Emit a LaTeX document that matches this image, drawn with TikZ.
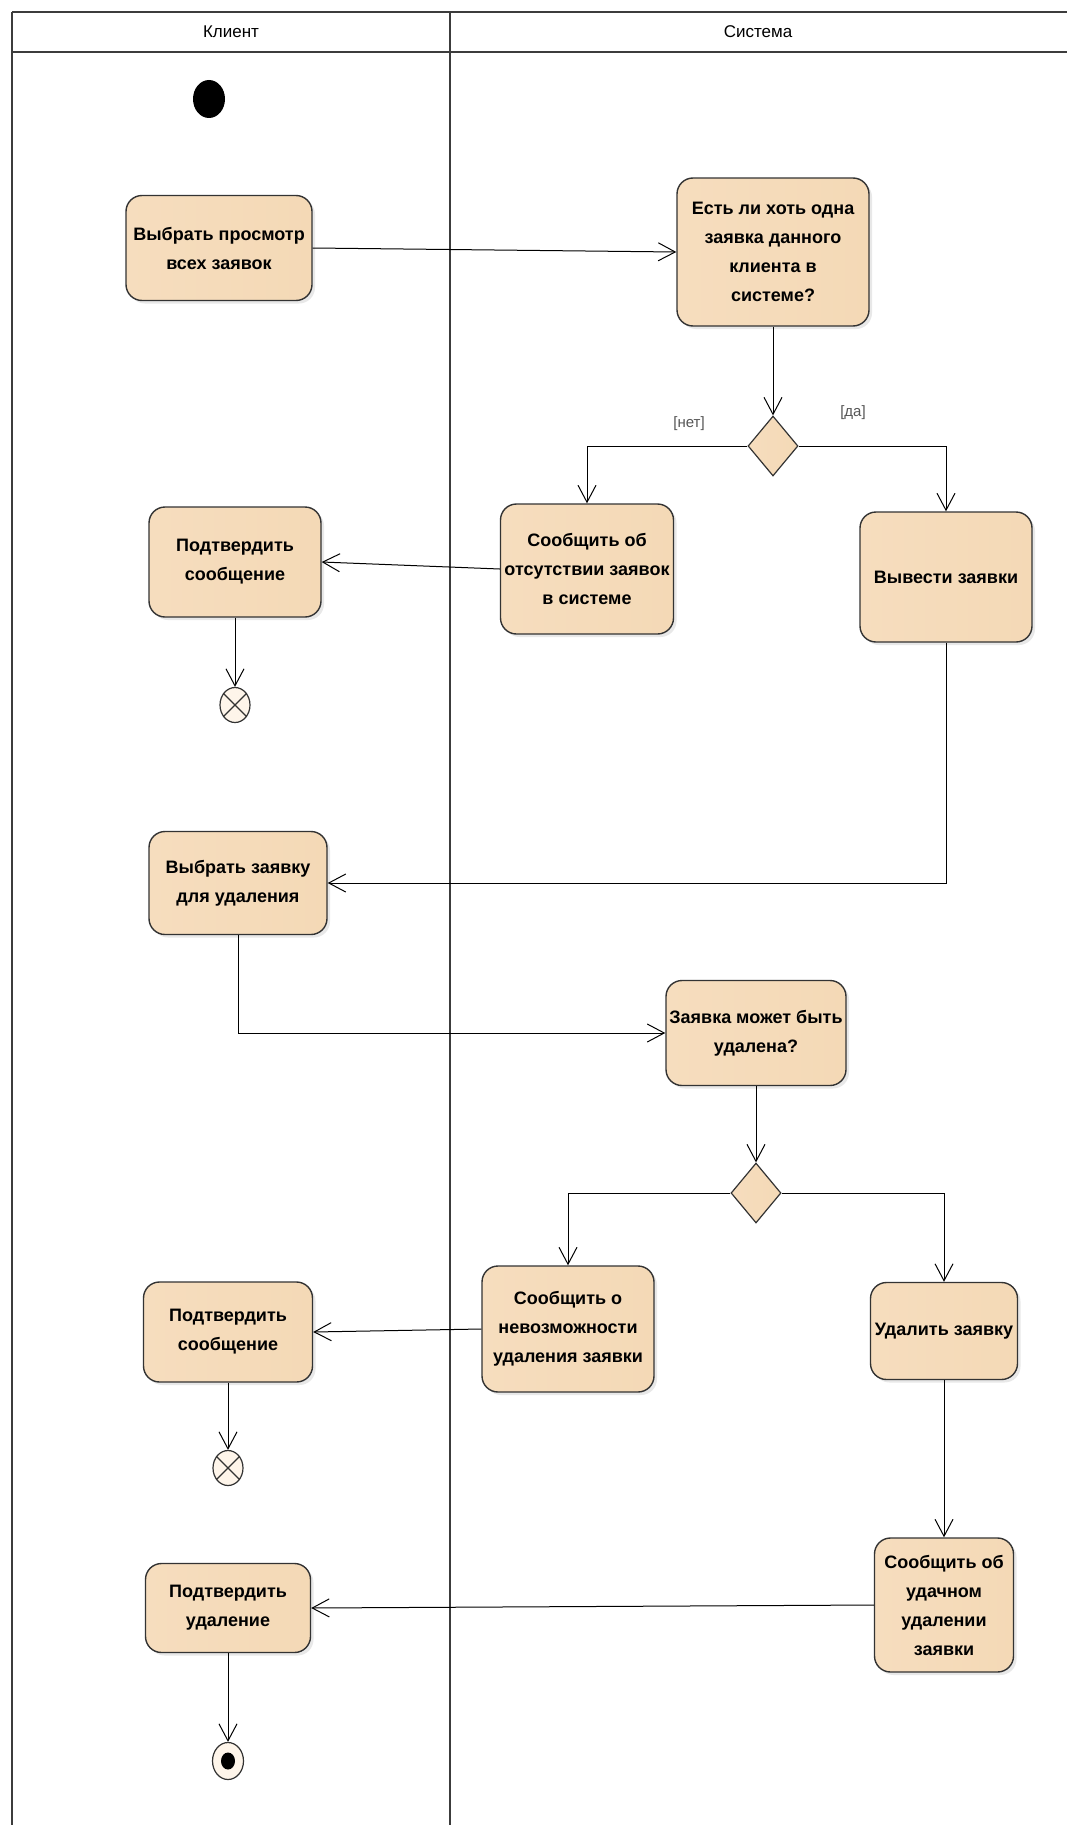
\documentclass[tikz,border=0pt]{standalone}
\usepackage{fontspec}
\setmainfont{Liberation Sans}
\usetikzlibrary{arrows.meta,shapes.geometric,shadows}
\definecolor{boxL}{HTML}{F6DDBE}
\definecolor{boxM}{HTML}{FEF5EA}
\definecolor{boxR}{HTML}{F4D9B6}
\definecolor{lineC}{HTML}{333333}
\definecolor{laneC}{HTML}{3C3C3C}
\definecolor{guardC}{HTML}{555555}
\begin{document}
\begin{tikzpicture}[x=1pt,y=-1pt,
  act/.style={draw=lineC, line width=1.4pt, rounded corners=16pt,
    left color=boxL, middle color=boxM, right color=boxR,
    align=center, font=\bfseries\fontsize{18}{29}\selectfont, inner sep=1pt,
    drop shadow={opacity=0.18,shadow xshift=3pt,shadow yshift=-3pt}},
  sz/.style 2 args={minimum width=#1pt, minimum height=#2pt},
  dec/.style={diamond, draw=lineC, line width=1.2pt, left color=boxL, middle color=boxM, right color=boxR,
    inner sep=0pt, minimum width=50pt, minimum height=60pt},
  flowfin/.style={ellipse, draw=lineC, line width=1.2pt, fill=boxM, inner sep=0pt,
    minimum width=30pt, minimum height=35pt},
  flow/.style={draw=black, line width=1pt, -{Straight Barb[length=17pt,width=18pt,line width=1pt]}},
  lane/.style={draw=laneC, line width=2pt},
  lanetitle/.style={font=\fontsize{17}{19}\selectfont},
  guard/.style={font=\fontsize{15}{17}\selectfont, text=guardC}
]
\useasboundingbox (0,0) rectangle (1067,1825);
\fill[white] (0,0) rectangle (1067,1825);

% swimlanes
\draw[lane] (12,12) -- (1067,12);
\draw[lane] (12,52) -- (1067,52);
\draw[lane] (12,12) -- (12,1825);
\draw[lane] (450,12) -- (450,1825);
\node[lanetitle] (tk) at (231,32) {Клиент};
\node[lanetitle] (ts) at (758,32) {Система};

% nodes
\node[ellipse, fill=black, inner sep=0pt, minimum width=32pt, minimum height=38pt] (start) at (209,99) {};
\node[act, sz={186}{105}] (a1) at (219,248) {Выбрать просмотр\\всех заявок};
\node[act, sz={192}{148}] (a2) at (773,252) {Есть ли хоть одна\\заявка данного\\клиента в\\системе?};
\node[dec] (d1) at (773,446) {};
\node[guard] (g1) at (689,424) {[нет]};
\node[guard] (g2) at (853,413) {[да]};
\node[act, sz={173}{130}] (a3) at (587,569) {Сообщить об\\отсутствии заявок\\в системе};
\node[act, sz={172}{130}] (a4) at (946,577) {Вывести заявки};
\node[act, sz={172}{110}] (a5) at (235,562) {Подтвердить\\сообщение};
\node[flowfin] (f1) at (235,705) {};
\draw[lineC, line width=1.1pt] (f1.45) -- (f1.225) (f1.135) -- (f1.315);
\node[act, sz={178}{103}] (a6) at (238,883) {Выбрать заявку\\для удаления};
\node[act, sz={180}{105}] (a7) at (756,1033) {Заявка может быть\\удалена?};
\node[dec] (d2) at (756,1193) {};
\node[act, sz={172}{126}] (a8) at (568,1329) {Сообщить о\\невозможности\\удаления заявки};
\node[act, sz={147}{97}] (a9) at (944,1331) {Удалить заявку};
\node[act, sz={169}{100}] (a10) at (228,1332) {Подтвердить\\сообщение};
\node[flowfin] (f2) at (228,1468) {};
\draw[lineC, line width=1.1pt] (f2.45) -- (f2.225) (f2.135) -- (f2.315);
\node[act, sz={139}{134}] (a11) at (944,1605) {Сообщить об\\удачном\\удалении\\заявки};
\node[act, sz={165}{89}] (a12) at (228,1608) {Подтвердить\\удаление};
\node[ellipse, draw=lineC, line width=1.2pt, fill=boxM, inner sep=0pt, minimum width=31pt, minimum height=37pt] (fin) at (228,1761) {};
\fill[black] (fin.center) ellipse (7pt and 8.5pt);

% flows
\draw[flow] (a1.east) -- (a2.west);
\draw[flow] (a2.south) -- (d1.north);
\draw[flow] (d1.west) -| (a3.north);
\draw[flow] (d1.east) -| (a4.north);
\draw[flow] (a3.west) -- (a5.east);
\draw[flow] (a5.south) -- (f1.north);
\draw[flow] (a4.south) |- (a6.east);
\draw[flow] (a6.south) |- (a7.west);
\draw[flow] (a7.south) -- (d2.north);
\draw[flow] (d2.west) -| (a8.north);
\draw[flow] (d2.east) -| (a9.north);
\draw[flow] (a8.west) -- (a10.east);
\draw[flow] (a10.south) -- (f2.north);
\draw[flow] (a9.south) -- (a11.north);
\draw[flow] (a11.west) -- (a12.east);
\draw[flow] (a12.south) -- (fin.north);
\end{tikzpicture}
\end{document}
